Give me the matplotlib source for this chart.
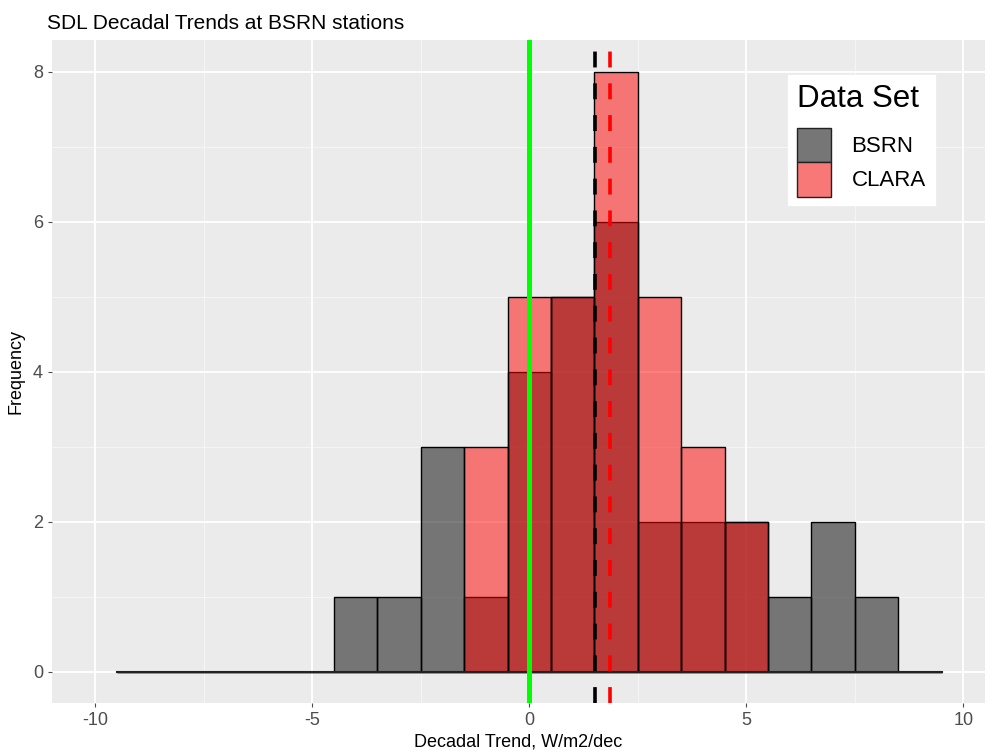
import numpy as np
import matplotlib.pyplot as plt
from matplotlib.patches import Patch

plt.rcParams['font.family'] = ['Liberation Sans', 'DejaVu Sans']
plt.rcParams['axes.unicode_minus'] = False

# histogram bins of width 1, centred on integers
bin_centres = np.arange(-9, 10)
bsrn_counts = [0, 0, 0, 0, 0, 1, 1, 3, 1, 4, 5, 6, 2, 2, 2, 1, 2, 1, 0]
clara_counts = [0, 0, 0, 0, 0, 0, 0, 0, 3, 5, 5, 8, 5, 3, 2, 0, 0, 0, 0]

# mean trends of each data set
bsrn_mean = 1.51
clara_mean = 1.86

BG = '#EBEBEB'


def main():
    fig = plt.figure(figsize=(9.95, 7.55), dpi=100)
    ax = fig.add_axes([52 / 995, 52 / 755, 933 / 995, 663 / 755])
    ax.set_facecolor(BG)

    # grid
    for x in [-7.5, -2.5, 2.5, 7.5]:
        ax.axvline(x, color='#F5F5F5', lw=0.8, zorder=0)
    for y in [1, 3, 5, 7]:
        ax.axhline(y, color='#F5F5F5', lw=0.8, zorder=0)
    for x in [-10, -5, 0, 5, 10]:
        ax.axvline(x, color='white', lw=1.3, zorder=0)
    for y in [0, 2, 4, 6, 8]:
        ax.axhline(y, color='white', lw=1.3, zorder=0)

    ax.bar(bin_centres, bsrn_counts, width=1, color='black', alpha=0.5,
           zorder=2)
    ax.bar(bin_centres, bsrn_counts, width=1, facecolor='none',
           edgecolor='black', lw=1.0, zorder=2.1)
    ax.bar(bin_centres, clara_counts, width=1, color='red', alpha=0.5,
           zorder=3)
    ax.bar(bin_centres, clara_counts, width=1, facecolor='none',
           edgecolor='black', lw=1.0, zorder=3.1)
    # zero-height bins show as a line along the baseline
    ax.plot([bin_centres[0] - 0.5, bin_centres[-1] + 0.5], [0, 0],
            color='#222222', lw=1.5, zorder=3.2)

    ax.axvline(0, color='#00FF00', lw=3.6, zorder=4)
    ax.axvline(bsrn_mean, color='black', lw=2.6, dashes=(4.4, 4.4), zorder=4)
    ax.axvline(clara_mean, color='red', lw=2.6, dashes=(4.4, 4.4), zorder=4)

    ax.set_xlim(-11, 10.5)
    ax.set_ylim(-0.42, 8.42)
    ax.set_xticks([-10, -5, 0, 5, 10])
    ax.set_yticks([0, 2, 4, 6, 8])
    ax.tick_params(colors='#4D4D4D', labelsize=13, length=3, width=0.8)
    for s in ax.spines.values():
        s.set_visible(False)

    ax.set_xlabel('Decadal Trend, W/m2/dec', fontsize=13, labelpad=3)
    ax.set_ylabel('Frequency', fontsize=13, labelpad=6)
    ax.set_title('SDL Decadal Trends at BSRN stations', fontsize=15,
                 loc='left', x=-0.005, pad=8)

    handles = [Patch(facecolor='#767676', edgecolor='#222222', label='BSRN'),
               Patch(facecolor='#F87777', edgecolor='#222222', label='CLARA')]
    leg = ax.legend(handles=handles, title='Data Set', loc='upper right',
                    bbox_to_anchor=(0.946, 0.947), borderaxespad=0,
                    fontsize=16, title_fontsize=22.5, frameon=True,
                    fancybox=False, edgecolor='white', framealpha=1,
                    handlelength=1.55, handleheight=2.0, labelspacing=0.0,
                    handletextpad=0.9, borderpad=0.4)
    leg._legend_box.align = 'left'
    leg._legend_box.sep = 10

    fig.savefig('out.png', dpi=100)


if __name__ == '__main__':
    main()
